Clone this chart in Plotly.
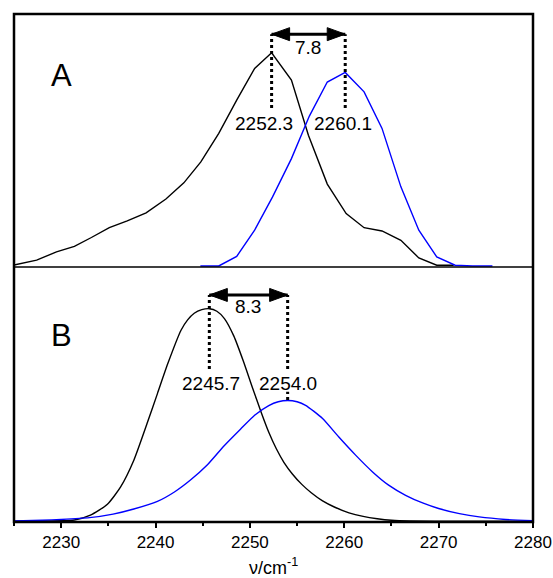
import plotly.graph_objects as go

# ---------------- data ----------------
# Panel A (measured spectra, polyline)
a_black_x = [2225.0, 2227.4, 2229.5, 2231.4, 2233.2, 2235.1, 2237.0, 2239.0, 2241.1, 2243.0,
             2244.8, 2246.7, 2248.6, 2250.5, 2252.3, 2254.4, 2256.2, 2258.2, 2260.2, 2262.1,
             2264.0, 2266.0, 2267.9, 2269.8, 2271.6]
a_black_y = [0.004, 0.023, 0.056, 0.078, 0.113, 0.152, 0.179, 0.211, 0.266, 0.330,
             0.413, 0.526, 0.658, 0.784, 0.846, 0.738, 0.519, 0.325, 0.208, 0.152,
             0.139, 0.102, 0.032, 0.003, 0.003]
a_blue_x = [2244.75, 2246.7, 2248.6, 2250.5, 2252.4, 2254.4, 2256.3, 2258.2, 2260.1, 2262.1,
            2264.0, 2266.0, 2267.9, 2269.8, 2271.75, 2273.6, 2275.7]
a_blue_y = [0.0, 0.0, 0.038, 0.142, 0.274, 0.426, 0.595, 0.730, 0.768, 0.691,
            0.546, 0.314, 0.142, 0.036, 0.003, 0.0, 0.0]

# Panel B (fitted band shapes, smooth)
b_black_x = [2225.0, 2228.0, 2230.0, 2231.4, 2233.1, 2234.9, 2236.3, 2237.7, 2239.1, 2240.2,
             2241.3, 2242.7, 2243.4, 2244.1, 2244.9, 2245.7, 2246.5, 2247.3, 2248.3, 2249.3,
             2250.3, 2251.2, 2252.0, 2252.8, 2253.6, 2254.5, 2255.5, 2256.5, 2257.7, 2259.0,
             2260.5, 2262.0, 2263.5, 2265.0, 2267.0, 2272.0, 2280.0]
b_black_y = [0.0, 0.001, 0.002, 0.005, 0.024, 0.067, 0.135, 0.240, 0.384, 0.502,
             0.620, 0.751, 0.792, 0.818, 0.832, 0.836, 0.826, 0.797, 0.728, 0.630,
             0.522, 0.428, 0.350, 0.285, 0.232, 0.186, 0.145, 0.112, 0.080, 0.055,
             0.033, 0.019, 0.010, 0.004, 0.001, 0.0, 0.0]
b_blue_x = [2225.0, 2228.0, 2230.0, 2233.0, 2235.5, 2237.7, 2240.2, 2242.0, 2243.7, 2245.5,
            2247.3, 2249.0, 2250.5, 2252.0, 2253.0, 2254.0, 2255.0, 2255.9, 2257.7, 2259.4,
            2261.2, 2263.0, 2264.7, 2266.5, 2268.3, 2270.0, 2272.2, 2274.3, 2277.1, 2280.0]
b_blue_y = [0.001, 0.004, 0.007, 0.014, 0.028, 0.048, 0.078, 0.115, 0.162, 0.222,
            0.298, 0.362, 0.417, 0.455, 0.470, 0.475, 0.470, 0.456, 0.404, 0.332,
            0.260, 0.194, 0.142, 0.102, 0.072, 0.050, 0.030, 0.017, 0.007, 0.002]

peaks_A = [2252.3, 2260.1]
peaks_B = [2245.7, 2254.0]
peak_labels_A = ["2252.3", "2260.1"]
peak_labels_B = ["2245.7", "2254.0"]
shift_A = "7.8"
shift_B = "8.3"
panel_labels = ["A", "B"]

x_ticks = [2230, 2240, 2250, 2260, 2270, 2280]

FONT = "Liberation Sans, Arial, sans-serif"
BLUE = "#0000FF"

fig = go.Figure()
fig.add_trace(go.Scatter(x=a_black_x, y=a_black_y, mode="lines", xaxis="x", yaxis="y2",
                         line=dict(color="black", width=1.4), showlegend=False))
fig.add_trace(go.Scatter(x=a_blue_x, y=a_blue_y, mode="lines", xaxis="x", yaxis="y2",
                         line=dict(color=BLUE, width=1.4), showlegend=False))
fig.add_trace(go.Scatter(x=b_black_x, y=b_black_y, mode="lines", xaxis="x", yaxis="y",
                         line=dict(color="black", width=1.4, shape="spline", smoothing=0.6),
                         showlegend=False))
fig.add_trace(go.Scatter(x=b_blue_x, y=b_blue_y, mode="lines", xaxis="x", yaxis="y",
                         line=dict(color=BLUE, width=1.4, shape="spline", smoothing=0.6),
                         showlegend=False))

shapes = []
annotations = []

HEAD_L = 18   # arrowhead length, px
HEAD_H = 6.5  # arrowhead half height, px


def panel_marks(peaks, labels, label_shifts, shift, yref, arrow_y, dot_bottom, label_y,
                shift_y, extra_dot=None):
    for p, lab, xs in zip(peaks, labels, label_shifts):
        shapes.append(dict(type="line", xref="x", yref=yref, x0=p, x1=p,
                           y0=dot_bottom, y1=arrow_y,
                           line=dict(color="black", width=3, dash="dot"), layer="above"))
        annotations.append(dict(x=p, y=label_y, xref="x", yref=yref, text=lab,
                                showarrow=False, xshift=xs,
                                font=dict(family=FONT, size=19, color="black"),
                                xanchor="center", yanchor="middle"))
    # double arrow: shaft + two filled heads
    shapes.append(dict(type="line", xref="x", yref=yref, x0=peaks[0], x1=peaks[1],
                       y0=arrow_y, y1=arrow_y, line=dict(color="black", width=3),
                       layer="above"))
    for p, sgn in ((peaks[0], 1), (peaks[1], -1)):
        path = "M0,0 L{0},{1} L{0},{2} Z".format(sgn * HEAD_L, HEAD_H, -HEAD_H)
        shapes.append(dict(type="path", xref="x", yref=yref, xsizemode="pixel",
                           ysizemode="pixel", xanchor=p, yanchor=arrow_y, path=path,
                           fillcolor="black", line=dict(color="black", width=1),
                           layer="above"))
    annotations.append(dict(x=(peaks[0] + peaks[1]) / 2, y=shift_y, xref="x", yref=yref,
                            text=shift, showarrow=False,
                            font=dict(family=FONT, size=19, color="black"),
                            xanchor="center", yanchor="middle"))
    if extra_dot is not None:
        shapes.append(dict(type="line", xref="x", yref=yref, x0=peaks[1], x1=peaks[1],
                           y0=extra_dot[0], y1=extra_dot[1],
                           line=dict(color="black", width=3, dash="dot"), layer="above"))


panel_marks(peaks_A, peak_labels_A, [-8, -2], shift_A, "y2", 0.92, 0.627, 0.567, 0.869)
panel_marks(peaks_B, peak_labels_B, [2, 0], shift_B, "y", 0.89, 0.599, 0.540, 0.846,
            extra_dot=(0.477, 0.509))

annotations.append(dict(x=0.091, y=0.878, xref="paper", yref="paper", text=panel_labels[0],
                        showarrow=False, font=dict(family=FONT, size=31, color="black"),
                        xanchor="center", yanchor="middle"))
annotations.append(dict(x=0.091, y=0.367, xref="paper", yref="paper", text=panel_labels[1],
                        showarrow=False, font=dict(family=FONT, size=31, color="black"),
                        xanchor="center", yanchor="middle"))
# x-axis title
annotations.append(dict(x=0.5, y=-0.088, xref="paper", yref="paper",
                        text="ν/cm<sup>-1</sup>", showarrow=False,
                        font=dict(family=FONT, size=18, color="black"),
                        xanchor="center", yanchor="middle"))

# frame and divider
DIV = 0.502
shapes.append(dict(type="rect", xref="paper", yref="paper", x0=0, x1=1, y0=0, y1=1,
                   line=dict(color="black", width=2.5), layer="above"))
shapes.append(dict(type="line", xref="paper", yref="paper", x0=0, x1=1, y0=DIV, y1=DIV,
                   line=dict(color="black", width=1.3), layer="above"))

fig.update_layout(
    width=553, height=578,
    margin=dict(l=14, r=20, t=14, b=56, autoexpand=False),
    paper_bgcolor="white", plot_bgcolor="white",
    font=dict(family=FONT, size=17, color="black"),
    xaxis=dict(range=[2225, 2280], tickvals=x_ticks, ticks="outside", ticklen=5,
               tickwidth=1.5, tickcolor="black", showgrid=False, zeroline=False,
               showline=False, anchor="y", automargin=False,
               tickfont=dict(family=FONT, size=17, color="black"),
               minor=dict(dtick=5, tick0=2225, ticks="outside", ticklen=3, tickwidth=1.5,
                          tickcolor="black", showgrid=False)),
    yaxis=dict(domain=[0, DIV], range=[-0.003, 1.0], showticklabels=False, ticks="",
               showgrid=False, zeroline=False, showline=False, anchor="x",
               automargin=False),
    yaxis2=dict(domain=[DIV, 1], range=[-0.004, 1.0], showticklabels=False, ticks="",
                showgrid=False, zeroline=False, showline=False, anchor="x",
                automargin=False),
    shapes=shapes,
    annotations=annotations,
)

fig.write_html("out.html",
               post_script="document.body.style.margin='0';"
                           "document.documentElement.style.overflow='hidden';"
                           "document.body.style.overflow='hidden';")
